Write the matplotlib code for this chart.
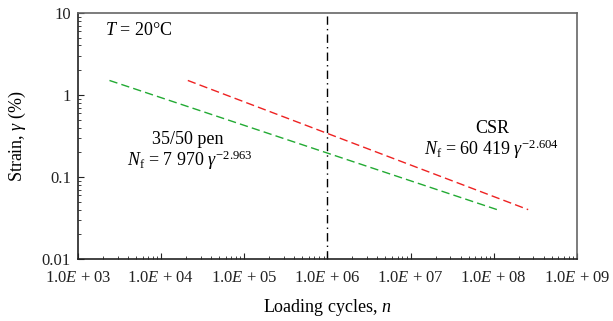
import matplotlib.pyplot as plt
import numpy as np
from matplotlib.ticker import FixedLocator, LogLocator, NullFormatter

plt.rcParams['font.family'] = ['Liberation Serif', 'DejaVu Serif']
plt.rcParams['mathtext.fontset'] = 'custom'
plt.rcParams['mathtext.rm'] = 'Liberation Serif'
plt.rcParams['mathtext.it'] = 'Liberation Serif:italic'

# fatigue lines (end points)
pen_cycles = [2.4e3, 1.1e8]
pen_strain = [1.5, 0.04]
csr_cycles = [2.1e4, 2.6e8]
csr_strain = [1.5, 0.04]
split_cycles = 1e6

xticks = [1e3, 1e4, 1e5, 1e6, 1e7, 1e8, 1e9]
xlabels = ['1.0$E$ + 03', '1.0$E$ + 04', '1.0$E$ + 05', '1.0$E$ + 06',
           '1.0$E$ + 07', '1.0$E$ + 08', '1.0$E$ + 09']
yticks = [0.01, 0.1, 1, 10]
ylabels = ['0.01', '0.1', '1', '10']

fig = plt.figure(figsize=(6.13, 3.21), dpi=100)
ax = fig.add_axes([0.127, 0.193, 0.814, 0.767])

ax.plot(pen_cycles, pen_strain, color='#22aa33', lw=1.0, dashes=(6, 3))
ax.plot(csr_cycles, csr_strain, color='#ee2222', lw=1.0, dashes=(6, 3))
ax.axvline(split_cycles, color='black', lw=1.0, dashes=(6, 3, 1, 3))

ax.set_xscale('log')
ax.set_yscale('log')
ax.set_xlim(1e3, 1e9)
ax.set_ylim(0.01, 10)

ax.xaxis.set_major_locator(FixedLocator(xticks))
ax.set_xticklabels(xlabels)
ax.yaxis.set_major_locator(FixedLocator(yticks))
ax.set_yticklabels(ylabels)
ax.xaxis.set_minor_locator(LogLocator(base=10, subs=np.arange(2, 10)))
ax.yaxis.set_minor_locator(LogLocator(base=10, subs=np.arange(2, 10)))
ax.xaxis.set_minor_formatter(NullFormatter())
ax.yaxis.set_minor_formatter(NullFormatter())
ax.tick_params(which='both', direction='in', labelsize=12, colors='#222222')
ax.tick_params(which='major', length=4)
ax.tick_params(which='minor', length=2)
ax.tick_params(axis='x', pad=8)
ax.tick_params(axis='y', pad=5)

for side in ['left', 'bottom']:
    ax.spines[side].set_color('#222222')
    ax.spines[side].set_linewidth(1.2)
for side in ['top', 'right']:
    ax.spines[side].set_color('#666666')
    ax.spines[side].set_linewidth(1.2)

ax.set_xlabel('Loading cycles, $n$', fontsize=13, labelpad=8)
ax.set_ylabel('Strain, $\\gamma$ (%)', fontsize=13, labelpad=10)

ax.text(0.055, 0.93, '$T$ = 20°C', transform=ax.transAxes, fontsize=13, va='center')
ax.text(0.22, 0.485, '35/50 pen', transform=ax.transAxes, fontsize=13, ha='center', va='center')
ax.text(0.225, 0.40, '$N_\\mathrm{f}$ = 7 970 $\\gamma^{-2.963}$', transform=ax.transAxes,
        fontsize=13, ha='center', va='center')
ax.text(0.83, 0.53, 'CSR', transform=ax.transAxes, fontsize=13, ha='center', va='center')
ax.text(0.83, 0.445, '$N_\\mathrm{f}$ = 60 419 $\\gamma^{-2.604}$', transform=ax.transAxes,
        fontsize=13, ha='center', va='center')

fig.savefig('out.png', dpi=100)
